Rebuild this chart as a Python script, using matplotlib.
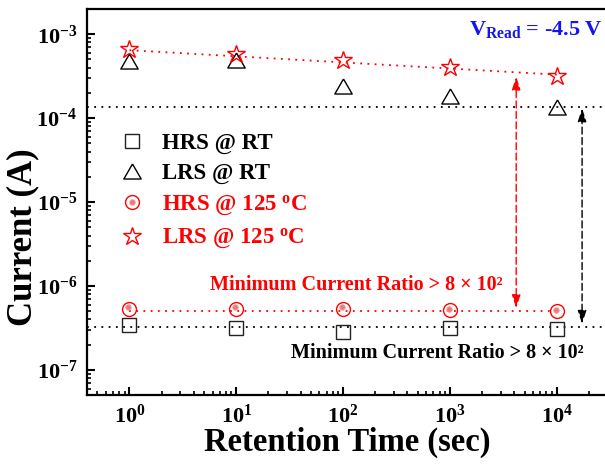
import numpy as np
import matplotlib
matplotlib.use('Agg')
import matplotlib.pyplot as plt
from matplotlib.ticker import LogLocator, FuncFormatter, NullFormatter
from matplotlib.patches import FancyArrowPatch
from matplotlib.legend_handler import HandlerTuple
import matplotlib.transforms as mtrans

plt.rcParams['font.family'] = 'Liberation Serif'
plt.rcParams['font.weight'] = 'bold'
plt.rcParams['mathtext.fontset'] = 'custom'
plt.rcParams['mathtext.rm'] = 'Liberation Serif:bold'
plt.rcParams['mathtext.bf'] = 'Liberation Serif:bold'
plt.rcParams['mathtext.it'] = 'Liberation Serif:bold:italic'
plt.rcParams['mathtext.default'] = 'bf'

# data
t = [1, 10, 100, 1000, 10000]
hrs_rt = [3.4e-7, 3.13e-7, 2.85e-7, 3.13e-7, 3.05e-7]
lrs_rt = [4.83e-4, 4.88e-4, 2.44e-4, 1.85e-4, 1.35e-4]
hrs_125 = [5.4e-7, 5.4e-7, 5.4e-7, 5.13e-7, 5.0e-7]
lrs_125 = [6.6e-4, 5.78e-4, 4.94e-4, 4.11e-4, 3.19e-4]

# guide lines
lrs_min_rt = 1.34e-4
hrs_max_rt = 3.27e-7
hrs_125_line_x = [1, 10000]
hrs_125_line_y = [5.0e-7, 5.0e-7]
lrs_125_fit_x = [1, 10000]
lrs_125_fit_y = [6.45e-4, 3.3e-4]

# ratio arrows (x, y_low, y_high)
arrow_red = (4.18e3, 5.46e-7, 3.13e-4)
arrow_blk = (1.73e4, 3.55e-7, 1.31e-4)

red = '#ff0000'
dot = (0, (1, 3))

fig = plt.figure(figsize=(6.05, 4.65), dpi=100)
ax = fig.add_axes([0.1438, 0.1505, 0.8600, 0.8291])
ax.set_xscale('log')
ax.set_yscale('log')
ax.set_xlim(0.40, 2.98e4)
ax.set_ylim(5.04e-8, 1.97e-3)

ax.axhline(lrs_min_rt, color='k', lw=1.3, ls=dot, zorder=1)
ax.axhline(hrs_max_rt, color='k', lw=1.3, ls=dot, zorder=1)
ax.plot(hrs_125_line_x, hrs_125_line_y, color=red, lw=1.3, ls=dot, zorder=1)
ax.plot(lrs_125_fit_x, lrs_125_fit_y, color=red, lw=1.3, ls=dot, zorder=1)

l_hrs, = ax.plot(t, hrs_rt, ls='none', marker='s', ms=9.6, mfc='none',
                 mec='#222222', mew=1.0, zorder=3)
tri = [(0, 0.866), (-1, -0.866), (1, -0.866), (0, 0.866)]
l_lrs, = ax.plot(t, lrs_rt, ls='none', marker=tri, ms=12.5, mfc='none',
                 mec='k', mew=1.0, zorder=3)
l_h125, = ax.plot(t, hrs_125, ls='none', marker='o', ms=10, mfc='none',
                  mec=red, mew=1.0, zorder=3)
off = mtrans.offset_copy(ax.transData, fig=fig, x=-0.8, y=0.8, units='points')
l_h125d, = ax.plot(t, hrs_125, ls='none', marker='o', ms=4, mfc='#f07878',
                   mec='#f4a0a0', mew=0.6, transform=off, zorder=4)
l_l125, = ax.plot(t, lrs_125, ls='none', marker='*', ms=13.5, mfc='none',
                  mec=red, mew=1.0, zorder=4)

for (xa, ylo, yhi), c in [(arrow_red, red), (arrow_blk, 'k')]:
    ar = FancyArrowPatch((xa, ylo), (xa, yhi),
                         arrowstyle='<|-|>,head_length=0.4,head_width=0.13',
                         mutation_scale=20, color=c, lw=1.0, ls=(0, (5, 2.5)),
                         shrinkA=0, shrinkB=0, zorder=2)
    ax.add_patch(ar)

# axes styling
for s in ax.spines.values():
    s.set_linewidth(1.6)
ax.xaxis.set_major_locator(LogLocator(base=10, numticks=10))
ax.yaxis.set_major_locator(LogLocator(base=10, numticks=10))
ax.xaxis.set_minor_locator(LogLocator(base=10, subs=np.arange(2, 10), numticks=20))
ax.yaxis.set_minor_locator(LogLocator(base=10, subs=np.arange(2, 10), numticks=20))
fmt = FuncFormatter(lambda v, p: r'$10^{%d}$' % int(round(np.log10(v))))
ax.xaxis.set_major_formatter(fmt)
ax.yaxis.set_major_formatter(fmt)
ax.xaxis.set_minor_formatter(NullFormatter())
ax.yaxis.set_minor_formatter(NullFormatter())
ax.tick_params(which='both', direction='in', top=False, right=False)
ax.tick_params(which='major', length=6, width=1.5, labelsize=16, pad=7)
ax.tick_params(which='minor', length=3, width=1.2)

ax.set_xlabel('Retention Time (sec)', fontsize=23.5, fontweight='bold')
ax.set_ylabel('Current (A)', fontsize=25, fontweight='bold')
ax.xaxis.set_label_coords(0.5, -0.082)
ax.yaxis.set_label_coords(-0.092, 0.41)

ax.text(0.7342, 0.9339, r'$V_{Read}$ = -4.5 V', transform=ax.transAxes,
        fontsize=16, color='#1515ee', fontweight='bold', ha='left', va='baseline')
ax.text(0.5184, 0.2724, 'Minimum Current Ratio > 8 × 10²', transform=ax.transAxes,
        fontsize=14.5, color=red, fontweight='bold', ha='center', va='baseline')
ax.text(0.6736, 0.0968, 'Minimum Current Ratio > 8 × 10²', transform=ax.transAxes,
        fontsize=14.5, color='k', fontweight='bold', ha='center', va='baseline')

leg = ax.legend([l_hrs, l_lrs, (l_h125, l_h125d), l_l125],
                ['HRS @ RT', 'LRS @ RT', 'HRS @ 125 $^{o}$C', 'LRS @ 125 $^{o}$C'],
                handler_map={tuple: HandlerTuple(ndivide=1)},
                loc='upper left', bbox_to_anchor=(0.064, 0.68), frameon=False,
                fontsize=16.5, handlelength=1.0, handletextpad=0.8,
                labelspacing=0.4, borderpad=0, borderaxespad=0, numpoints=1)
for txt, c in zip(leg.get_texts(), ['k', 'k', red, red]):
    txt.set_color(c)

fig.savefig('out.png', dpi=100)
